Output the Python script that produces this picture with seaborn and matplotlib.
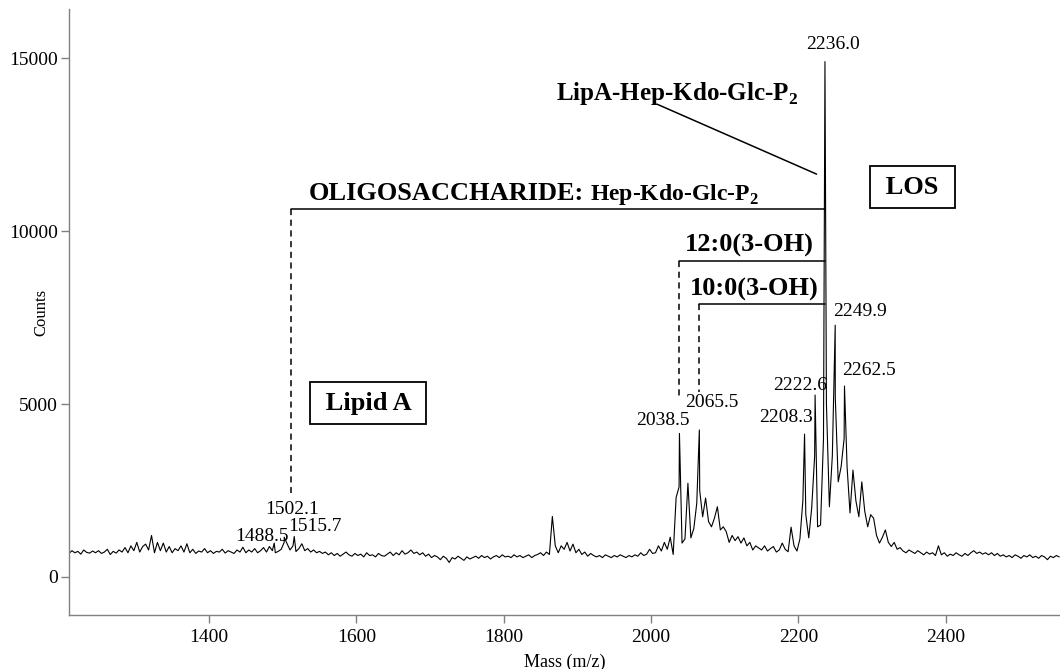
import numpy as np
import pandas as pd
import matplotlib
matplotlib.use("Agg")
import matplotlib.pyplot as plt
import seaborn as sns

# ---------------------------------------------------------------
# MALDI-TOF spectrum of the LOS sample
# ---------------------------------------------------------------
# background trace sampled every 4 m/z units from 1206 to 2554
grid_start, grid_stop, grid_step = 1206, 2554, 4
background_counts = [
    720, 680, 760, 700, 740, 660, 780, 710, 690, 750,      # 1206-1242
    700, 760, 680, 720, 800, 650, 740, 690, 780, 720,      # 1246-1282
    850, 700, 900, 760, 1000, 720, 880, 950, 780, 1200,    # 1286-1322
    700, 1000, 760, 980, 720, 880, 700, 820, 760, 900,     # 1326-1362
    720, 960, 700, 800, 680, 750, 720, 820, 700, 760,      # 1366-1402
    680, 740, 720, 800, 690, 760, 720, 680, 780, 720,      # 1406-1442
    860, 700, 780, 720, 820, 700, 760, 850, 720, 880,      # 1446-1482
    760, 700, 740, 800, 1000, 960, 780, 900, 735, 820,     # 1486-1522
    960, 760, 820, 720, 780, 700, 740, 680, 720, 640,      # 1526-1562
    700, 620, 680, 600, 660, 720, 640, 600, 680, 620,      # 1566-1602
    660, 580, 700, 620, 640, 580, 680, 620, 600, 660,      # 1606-1642
    720, 620, 700, 640, 760, 660, 700, 780, 680, 720,      # 1646-1682
    640, 700, 600, 660, 560, 620, 580, 500, 600, 540,      # 1686-1722
    420, 560, 520, 600, 540, 480, 580, 520, 560, 600,      # 1726-1762
    540, 620, 560, 600, 520, 580, 620, 560, 640, 580,      # 1766-1802
    600, 560, 640, 580, 620, 560, 600, 640, 560, 620,      # 1806-1842
    650, 700, 620, 720, 650, 1750, 900, 700, 900, 800,     # 1846-1882
    1000, 750, 950, 700, 800, 650, 720, 600, 680, 620,     # 1886-1922
    580, 620, 560, 640, 600, 560, 620, 580, 640, 600,      # 1926-1962
    560, 620, 580, 640, 600, 700, 620, 660, 800, 680,      # 1966-2002
    700, 900, 750, 1000, 800, 1150, 650, 2300, 2600, 980,  # 2006-2042
    1100, 2710, 1130, 1400, 2130, 2500, 1740, 2280, 1600, 1450,  # 2046-2082
    1700, 2030, 1360, 1450, 1310, 1000, 1200, 1050, 1165, 980,   # 2086-2122
    1130, 900, 1000, 780, 900, 840, 780, 900, 750, 820,    # 2126-2162
    880, 720, 780, 980, 800, 730, 1440, 900, 750, 1100,    # 2166-2202
    2200, 1800, 1130, 2000, 3500, 1450, 1500, 4000, 5000, 2030,  # 2206-2242
    3500, 5200, 2750, 3200, 4000, 3190, 1850, 3090, 2200, 1740,  # 2246-2282
    2750, 1900, 1450, 1800, 1700, 1200, 980, 1150, 1360, 1000,   # 2286-2322
    880, 1000, 800, 850, 750, 700, 780, 730, 680, 760,     # 2326-2362
    700, 640, 720, 660, 700, 620, 900, 640, 700, 600,      # 2366-2402
    660, 620, 700, 640, 600, 680, 620, 700, 760, 680,      # 2406-2442
    720, 660, 700, 640, 700, 620, 680, 600, 640, 580,      # 2446-2482
    620, 560, 640, 600, 540, 620, 580, 640, 560, 600,      # 2486-2522
    540, 620, 580, 500, 600, 560, 620, 580,                # 2526-2554
]

# labelled peaks (m/z, counts)
peak_mz = [1488.5, 1502.1, 1515.7, 2038.5, 2065.5,
           2208.3, 2222.6, 2236.0, 2249.9, 2262.5]
peak_counts = [980, 1150, 1170, 4150, 4250,
               4130, 5260, 14900, 7280, 5520]

x_ticks = [1400, 1600, 1800, 2000, 2200, 2400]
y_ticks = [0, 5000, 10000, 15000]

# ---------------------------------------------------------------
grid_mz = np.arange(grid_start, grid_stop + 1, grid_step)
mz = np.concatenate([grid_mz, peak_mz]).astype(float)
counts = np.concatenate([background_counts, peak_counts]).astype(float)
order = np.argsort(mz)
spectrum = pd.DataFrame({"mz": mz[order], "counts": counts[order]})

sns.set_style("ticks")
plt.rcParams["font.family"] = ["Liberation Serif", "DejaVu Serif"]
plt.rcParams["mathtext.fontset"] = "custom"
plt.rcParams["mathtext.rm"] = "Liberation Serif"
plt.rcParams["mathtext.bf"] = "Liberation Serif:bold"
plt.rcParams["text.color"] = "black"
plt.rcParams["axes.labelcolor"] = "black"

fig = plt.figure(figsize=(10.6, 6.69), dpi=100)
ax = fig.add_axes([0.0651, 0.0807, 0.9349, 0.9058])

sns.lineplot(data=spectrum, x="mz", y="counts", ax=ax, color="black",
             linewidth=0.8, estimator=None, sort=True)

ax.set_xlim(1210, 2555)
ax.set_ylim(-1100, 16420)
ax.set_xticks(x_ticks)
ax.set_yticks(y_ticks)
ax.set_xlabel("Mass (m/z)", fontsize=13, color="black")
ax.set_ylabel("Counts", fontsize=12, color="black")
ax.xaxis.set_label_coords(0.5, -0.064)
ax.yaxis.set_label_coords(-0.020, 0.5)

sns.despine(ax=ax)
for side in ("left", "bottom"):
    ax.spines[side].set_color("#808080")
    ax.spines[side].set_linewidth(1.0)
ax.tick_params(axis="both", direction="out", length=6, width=1.0,
               color="#808080", labelcolor="black", labelsize=14)
ax.tick_params(axis="x", pad=4)
ax.tick_params(axis="y", pad=2)

# ---------------------------------------------------------------
# peak labels, offset (points) from each apex
label_offsets = {
    1488.5: (-9, 5), 1502.1: (6, 20), 1515.7: (15, 7),
    2038.5: (-12, 9), 2065.5: (9, 20), 2208.3: (-13, 12),
    2222.6: (-11, 7), 2236.0: (6, 12), 2249.9: (18, 10),
    2262.5: (18, 11),
}
for m, c in zip(peak_mz, peak_counts):
    ax.annotate(f"{m:.1f}", xy=(m, c), xytext=label_offsets[m],
                textcoords="offset points", ha="center", va="center",
                fontsize=14, color="black")

line_kw = dict(color="black", linewidth=1.1)
dash_kw = dict(color="black", linewidth=1.1, linestyle=(0, (4, 3)))
los_peak = peak_mz[7]

# oligosaccharide bracket
oligo_x, oligo_y, oligo_bottom = 1511, 10627, 2428
ax.plot([oligo_x, los_peak], [oligo_y, oligo_y], **line_kw)
ax.plot([oligo_x, oligo_x], [oligo_y, oligo_bottom], **dash_kw)
t_oligo = ax.text(1535.7, 10896, "OLIGOSACCHARIDE:", fontsize=19,
                  fontweight="bold", ha="left", va="baseline")
fig.canvas.draw()
bb = t_oligo.get_window_extent(fig.canvas.get_renderer())
x_next = ax.transData.inverted().transform((bb.x1 + 6, bb.y0))[0]
ax.text(x_next, 10896, r"Hep-Kdo-Glc-P$_{\mathbf{2}}$", fontsize=17,
        fontweight="bold", ha="left", va="baseline")

# 12:0(3-OH) bracket
ax.plot([peak_mz[3], los_peak], [9133, 9133], **line_kw)
ax.plot([peak_mz[3], peak_mz[3]], [9133, 5211], **dash_kw)
ax.text(2134, 9402, "12:0(3-OH)", fontsize=19, fontweight="bold",
        ha="center", va="baseline")

# 10:0(3-OH) bracket
ax.plot([peak_mz[4], los_peak], [7882, 7882], **line_kw)
ax.plot([peak_mz[4], peak_mz[4]], [7882, 5355], **dash_kw)
ax.text(2139.5, 8121, "10:0(3-OH)", fontsize=19, fontweight="bold",
        ha="center", va="baseline")

# intact LOS pointer
ax.text(2199.2, 13786, r"LipA-Hep-Kdo-Glc-P$_{\mathbf{2}}$", fontsize=18,
        fontweight="bold", ha="right", va="baseline")
ax.plot([2007.9, 2224.6], [13671, 11647], **line_kw)

# boxed region labels
box_kw = dict(boxstyle="square,pad=0.35", facecolor="white",
              edgecolor="black", linewidth=1.3)
ax.text(2354.5, 11272, " LOS ", fontsize=19, fontweight="bold",
        ha="center", va="center", bbox=box_kw)
ax.text(1615.7, 5029, " Lipid A ", fontsize=19, fontweight="bold",
        ha="center", va="center", bbox=box_kw)

fig.savefig("out.png", dpi=100)
